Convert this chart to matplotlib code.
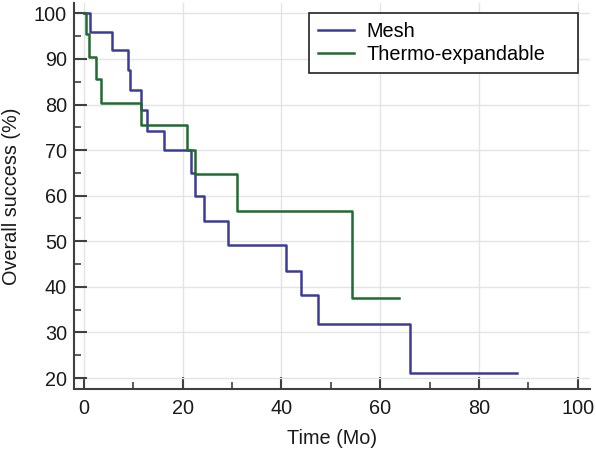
import matplotlib
matplotlib.use("Agg")
import matplotlib.pyplot as plt
from matplotlib.ticker import MultipleLocator

plt.rcParams['font.family'] = ['Liberation Sans', 'DejaVu Sans']

# Kaplan-Meier step data (time in months, survival %)
mesh_t = [0, 1.3, 5.7, 9.0, 9.3, 11.5, 12.7, 16.2, 21.7, 22.5, 24.4, 29.2, 40.9, 43.9, 47.5, 66.0, 87.8]
mesh_s = [100, 96.0, 91.9, 87.5, 83.1, 78.9, 74.3, 70.0, 65.0, 59.9, 54.5, 49.1, 43.5, 38.2, 31.8, 21.1, 21.1]

thermo_t = [0, 0.4, 1.1, 2.4, 3.5, 11.5, 20.9, 22.5, 31.0, 54.4, 63.8]
thermo_s = [100, 95.4, 90.4, 85.5, 80.4, 75.4, 70.1, 64.7, 56.6, 37.6, 37.6]

labels = ["Mesh", "Thermo-expandable"]
colors = ["#3c3c98", "#1f6b30"]

FS = 14.3

fig = plt.figure(figsize=(5.96, 4.5), dpi=100)
ax = fig.add_axes([0.124, 0.1356, 0.866, 0.857])

ax.step(mesh_t, mesh_s, where='post', color=colors[0], lw=1.8, label=labels[0])
ax.step(thermo_t, thermo_s, where='post', color=colors[1], lw=1.8, label=labels[1])

ax.set_xlim(-2.0, 102.5)
ax.set_ylim(17.6, 102.2)
ax.xaxis.set_major_locator(MultipleLocator(20))
ax.xaxis.set_minor_locator(MultipleLocator(10))
ax.yaxis.set_major_locator(MultipleLocator(10))
ax.yaxis.set_minor_locator(MultipleLocator(5))

ax.grid(True, which='major', color='#e4e4e4', lw=1.0)
ax.set_axisbelow(True)

for s in ['top', 'right']:
    ax.spines[s].set_visible(False)
for s in ['left', 'bottom']:
    ax.spines[s].set_color('#404040')
    ax.spines[s].set_linewidth(1.5)

ax.tick_params(which='major', direction='in', length=9, width=1.5, color='#404040',
               labelsize=FS, labelcolor='#1a1a1a', pad=5)
ax.tick_params(axis='x', which='major', pad=7)
ax.tick_params(which='minor', direction='in', length=5, width=1.2, color='#404040')

ax.set_xlabel("Time (Mo)", fontsize=FS, color='#1a1a1a', labelpad=8)
ax.set_ylabel("Overall success (%)", fontsize=FS, color='#1a1a1a', labelpad=9)

leg = ax.legend(loc='upper left', bbox_to_anchor=(0.4555, 0.825, 0.5215, 0.15),
                mode='expand', borderaxespad=0,
                fontsize=FS, frameon=True, fancybox=False, edgecolor='#222222',
                framealpha=1, handlelength=1.8, borderpad=0.45, labelspacing=0.2,
                handletextpad=0.65)
leg.get_frame().set_linewidth(1.2)

fig.savefig("out.png", dpi=100)
